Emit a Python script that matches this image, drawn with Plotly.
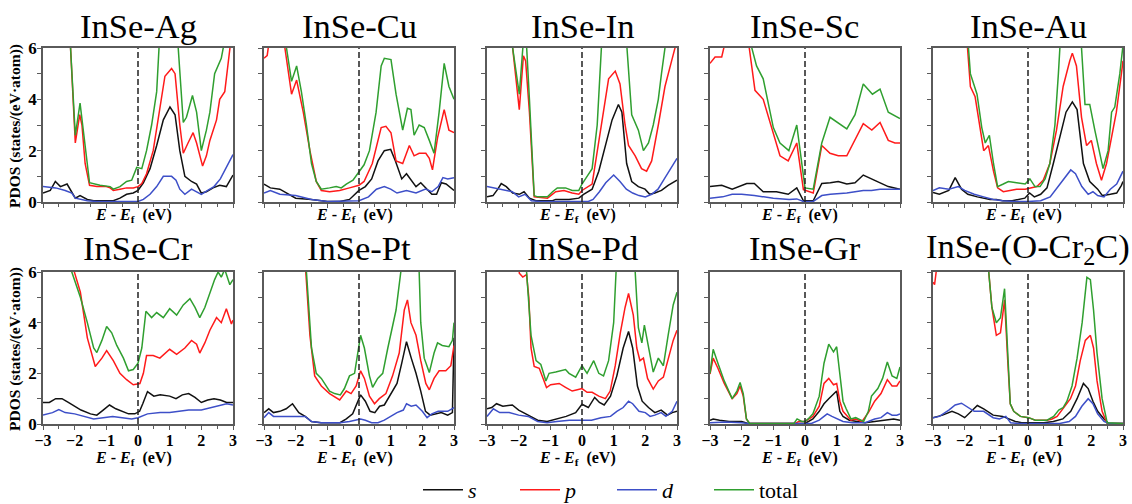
import plotly.graph_objects as go

# ---------------- data ----------------
PANELS = ["InSe-Ag", "InSe-Cu", "InSe-In", "InSe-Sc", "InSe-Au",
          "InSe-Cr", "InSe-Pt", "InSe-Pd", "InSe-Gr", "InSe-(O-Cr<sub>2</sub>C)"]
ORBITALS = ["s", "p", "d", "total"]
ORB_LABELS = ["<i>s</i>", "<i>p</i>", "<i>d</i>", "total"]
E_FERMI = 0.0
X_TICKS = [-3, -2, -1, 0, 1, 2, 3]
Y_TICKS = [0, 2, 4, 6]

AG_S = [(-3,0.35),(-2.77,0.45),(-2.61,0.8),(-2.45,0.6),(-2.24,0.7),(-2.09,0.4),(-1.98,0.15),(-1.83,0.25),(-1.6,0.1),(-1.4,0.05),(-0.78,0.05),(-0.57,0.15),(-0.36,0.3),(-0.15,0.35),(0,0.45),(0.17,0.75),(0.38,1.3),(0.59,2.2),(0.8,3.2),(1.01,3.7),(1.17,3.4),(1.32,2.0),(1.48,1.0),(1.69,0.8),(1.85,0.7),(2.0,0.35),(2.16,0.4),(2.37,0.55),(2.58,0.65),(2.79,0.6),(3.0,1.05)]
AG_P = [(-3,9),(-2.16,9),(-2.13,6),(-1.98,2.3),(-1.84,3.4),(-1.77,3.0),(-1.67,1.5),(-1.53,0.65),(-1.3,0.6),(-1.0,0.6),(-0.88,0.55),(-0.78,0.45),(-0.57,0.5),(-0.36,0.55),(-0.15,0.55),(0,0.6),(0.12,0.72),(0.27,1.1),(0.48,2.0),(0.69,3.6),(0.85,4.9),(1.06,5.2),(1.17,5.0),(1.32,3.0),(1.43,1.9),(1.58,2.3),(1.74,2.7),(1.85,2.3),(2.04,1.4),(2.16,1.8),(2.27,2.4),(2.48,3.2),(2.58,4.0),(2.74,4.3),(2.85,5.3),(2.92,6.0),(3.0,7.0)]
AG_D = [(-3,0.6),(-2.6,0.55),(-2.3,0.45),(-2.09,0.35),(-1.98,0.15),(-1.83,0.1),(-1.6,0.05),(-1.3,0.02),(0,0.02),(0.17,0.1),(0.38,0.3),(0.59,0.6),(0.8,1.0),(1.06,1.0),(1.2,0.85),(1.32,0.5),(1.48,0.3),(1.69,0.5),(1.9,0.35),(2.0,0.3),(2.2,0.45),(2.4,0.6),(2.6,0.9),(2.8,1.35),(3.0,1.85)]
AG_T = [(-3,9),(-2.16,9),(-2.13,6),(-1.98,2.6),(-1.83,3.85),(-1.7,2.5),(-1.53,0.75),(-1.2,0.65),(-0.88,0.6),(-0.78,0.5),(-0.57,0.6),(-0.36,0.8),(-0.2,0.85),(-0.04,1.35),(0.12,1.3),(0.27,2.0),(0.43,3.0),(0.59,4.3),(0.69,6.0),(0.75,8),(1.2,8),(1.27,6.0),(1.43,3.1),(1.53,3.3),(1.72,4.15),(1.85,3.5),(2.0,2.0),(2.16,2.8),(2.27,3.5),(2.42,5.0),(2.63,5.6),(2.74,6.2),(3.0,8)]

CU_S = [(-3,0.7),(-2.8,0.55),(-2.5,0.5),(-2.3,0.35),(-2.0,0.15),(-1.5,0.1),(-1.0,0.02),(-0.6,0.02),(-0.3,0.1),(0,0.45),(0.2,0.6),(0.4,0.9),(0.6,1.6),(0.8,2.0),(1.0,2.05),(1.15,1.6),(1.35,0.9),(1.5,1.1),(1.65,0.85),(1.8,0.6),(1.95,0.75),(2.1,0.55),(2.3,0.3),(2.45,0.3),(2.6,0.75),(2.75,0.7),(3.0,0.45)]
CU_P = [(-3,5.6),(-2.9,5.7),(-2.81,6.5),(-2.7,9),(-2.4,9),(-2.34,6),(-2.13,4.2),(-1.97,4.75),(-1.76,3.5),(-1.55,2.0),(-1.35,0.8),(-1.19,0.45),(-0.93,0.4),(-0.61,0.45),(-0.3,0.55),(0,0.65),(0.16,0.8),(0.42,1.5),(0.7,2.9),(0.85,2.95),(1.01,2.7),(1.17,1.6),(1.38,1.5),(1.59,2.2),(1.74,1.8),(1.9,1.9),(2.11,1.9),(2.22,1.7),(2.32,1.25),(2.48,2.5),(2.69,3.6),(2.84,2.8),(3.0,2.7)]
CU_D = [(-3,0.35),(-2.8,0.45),(-2.5,0.3),(-2.0,0.25),(-1.5,0.1),(-1.0,0.02),(0,0.05),(0.3,0.2),(0.55,0.5),(0.8,0.6),(1.0,0.5),(1.2,0.35),(1.5,0.45),(1.8,0.35),(2.1,0.5),(2.3,0.4),(2.5,0.6),(2.65,0.95),(2.8,0.9),(3.0,0.95)]
CU_T = [(-3,9),(-2.35,9),(-2.29,6.0),(-2.13,4.7),(-1.97,5.3),(-1.82,4.3),(-1.66,3.0),(-1.5,1.5),(-1.35,0.8),(-1.19,0.5),(-0.93,0.55),(-0.72,0.6),(-0.56,0.55),(-0.4,0.7),(-0.19,0.85),(0,1.2),(0.16,1.45),(0.33,2.0),(0.54,3.5),(0.7,5.3),(0.8,5.6),(1.01,5.55),(1.17,4.2),(1.38,2.8),(1.53,3.65),(1.64,3.6),(1.74,2.6),(1.9,3.0),(2.06,2.9),(2.22,2.4),(2.37,1.9),(2.53,3.5),(2.69,5.4),(2.84,4.5),(3.0,4.0)]

IN_S = [(-3,0.2),(-2.81,0.25),(-2.66,0.5),(-2.55,0.72),(-2.39,0.6),(-2.19,0.35),(-1.98,0.3),(-1.83,0.4),(-1.66,0.15),(-1.46,0.05),(-0.93,0.05),(-0.83,0.1),(-0.41,0.1),(-0.1,0.15),(0.05,0.3),(0.32,0.5),(0.53,1.2),(0.74,2.2),(0.95,3.2),(1.15,3.8),(1.26,3.5),(1.41,1.5),(1.57,0.8),(1.78,0.6),(1.99,0.5),(2.14,0.3),(2.3,0.35),(2.51,0.45),(2.72,0.65),(3.0,0.85)]
IN_P = [(-3,9),(-2.25,9),(-2.19,6),(-1.98,3.6),(-1.85,5.7),(-1.78,5.5),(-1.66,3.5),(-1.58,1.5),(-1.51,0.2),(-1.09,0.15),(-0.83,0.4),(-0.57,0.45),(-0.31,0.35),(-0.1,0.3),(0,0.45),(0.32,0.7),(0.48,2.0),(0.68,3.5),(0.84,4.8),(1.05,5.1),(1.2,4.6),(1.36,3.0),(1.47,2.2),(1.68,1.8),(1.88,1.3),(2.04,1.2),(2.2,1.6),(2.41,3.0),(2.62,4.5),(2.83,5.5),(3.0,6.3)]
IN_D = [(-3,0.6),(-2.8,0.55),(-2.5,0.5),(-2.2,0.4),(-2.0,0.2),(-1.8,0.3),(-1.6,0.05),(-1.3,0.02),(0.2,0.02),(0.35,0.1),(0.55,0.4),(0.75,0.75),(1.0,1.05),(1.2,0.8),(1.4,0.5),(1.6,0.35),(1.8,0.25),(2.0,0.2),(2.2,0.3),(2.4,0.5),(2.6,0.9),(2.8,1.3),(3.0,1.7)]
IN_T = [(-3,9),(-2.25,9),(-2.19,6),(-1.98,4.2),(-1.85,6.3),(-1.76,6.3),(-1.66,4.0),(-1.58,2.0),(-1.51,0.25),(-1.4,0.2),(-1.09,0.2),(-0.93,0.4),(-0.78,0.55),(-0.52,0.55),(-0.31,0.45),(-0.1,0.45),(0,0.7),(0.16,1.0),(0.32,1.3),(0.48,3.0),(0.63,6.0),(0.7,8),(1.35,8),(1.42,6),(1.57,3.4),(1.78,2.8),(1.94,2.0),(2.1,2.3),(2.25,3.0),(2.41,4.0),(2.51,5.0),(2.62,6.0),(2.7,8),(3.0,8)]

SC_S = [(-3,0.6),(-2.63,0.65),(-2.3,0.5),(-1.84,0.72),(-1.6,0.72),(-1.32,0.4),(-0.9,0.4),(-0.53,0.3),(-0.26,0.55),(-0.05,0.05),(0.26,0.05),(0.53,0.72),(0.8,0.75),(1.05,0.8),(1.32,0.7),(1.58,0.75),(1.84,1.05),(2.11,0.9),(2.37,0.75),(2.63,0.6),(3.0,0.5)]
SC_P = [(-3,5.4),(-2.84,5.65),(-2.63,5.65),(-2.47,6.5),(-2.4,9),(-1.9,9),(-1.76,6.0),(-1.58,4.35),(-1.32,4.0),(-1.05,2.9),(-0.79,1.8),(-0.53,1.6),(-0.26,2.3),(-0.05,0.48),(0.26,0.35),(0.53,2.2),(0.79,1.9),(1.05,1.8),(1.32,1.8),(1.84,3.05),(2.11,2.8),(2.37,3.1),(2.63,2.4),(2.84,2.3),(3.0,2.3)]
SC_D = [(-3,0.15),(-2.6,0.2),(-2.3,0.3),(-2.0,0.3),(-1.6,0.25),(-1.32,0.2),(-1.0,0.15),(-0.5,0.1),(-0.26,0.12),(-0.05,0.02),(0.26,0.02),(0.53,0.25),(0.8,0.3),(1.32,0.35),(1.58,0.4),(1.84,0.45),(2.1,0.45),(2.37,0.5),(2.63,0.5),(3.0,0.5)]
SC_T = [(-3,9),(-1.75,9),(-1.68,6.0),(-1.53,5.3),(-1.32,4.8),(-1.0,2.9),(-0.79,2.3),(-0.51,2.0),(-0.26,3.0),(0.0,0.55),(0.26,0.5),(0.53,2.3),(0.79,3.3),(1.32,2.85),(1.58,3.4),(1.84,4.6),(2.13,4.2),(2.37,4.4),(2.63,3.5),(3.0,3.25)]

AU_S = [(-3,0.37),(-2.8,0.3),(-2.5,0.45),(-2.3,0.95),(-2.1,0.5),(-1.9,0.3),(-1.6,0.2),(-1.4,0.15),(-1.2,0.1),(-1.0,0.1),(-0.8,0.05),(-0.5,0.05),(-0.3,0.1),(-0.1,0.15),(0.05,0.35),(0.2,0.2),(0.4,0.3),(0.6,0.55),(0.8,1.5),(1.0,2.5),(1.2,3.5),(1.4,3.9),(1.55,3.6),(1.75,1.5),(1.95,0.8),(2.2,0.5),(2.35,0.25),(2.6,0.3),(2.8,0.35),(2.95,0.65),(3.0,0.8)]
AU_P = [(-3,9),(-1.95,9),(-1.91,6.0),(-1.82,4.5),(-1.67,4.1),(-1.51,2.8),(-1.4,2.0),(-1.25,2.2),(-1.09,1.2),(-0.96,0.55),(-0.78,0.4),(-0.57,0.45),(-0.36,0.5),(-0.09,0.5),(0.06,0.55),(0.28,0.6),(0.48,0.85),(0.69,1.5),(0.9,2.8),(1.11,4.5),(1.32,5.5),(1.4,5.8),(1.53,5.3),(1.69,3.3),(1.85,2.2),(2.0,2.4),(2.16,1.5),(2.32,0.85),(2.48,1.5),(2.64,2.5),(2.79,3.5),(2.95,5.0),(3.0,5.5)]
AU_D = [(-3,0.45),(-2.8,0.55),(-2.5,0.5),(-2.2,0.6),(-2.0,0.45),(-1.7,0.3),(-1.4,0.2),(-1.1,0.1),(-0.8,0.05),(-0.4,0.02),(0.0,0.02),(0.4,0.05),(0.7,0.2),(1.0,0.7),(1.2,1.0),(1.35,1.25),(1.5,1.1),(1.7,0.6),(1.9,0.3),(2.05,0.4),(2.2,0.25),(2.4,0.2),(2.6,0.5),(2.8,0.7),(3.0,1.2)]
AU_T = [(-3,9),(-1.92,9),(-1.88,6.0),(-1.82,5.0),(-1.61,4.2),(-1.46,2.9),(-1.35,2.3),(-1.22,2.6),(-1.09,1.5),(-0.96,0.6),(-0.78,0.7),(-0.62,0.8),(-0.36,0.75),(-0.09,0.7),(0.06,0.9),(0.22,0.6),(0.38,0.6),(0.54,0.9),(0.69,1.5),(0.85,3.0),(0.96,5.0),(1.03,6.0),(1.1,8),(1.62,8),(1.69,6.0),(1.8,3.8),(1.95,3.8),(2.11,2.8),(2.27,1.8),(2.37,1.3),(2.53,2.0),(2.64,3.5),(2.74,3.7),(2.9,5.0),(2.99,6.0),(3.0,6.3)]

CR_S = [(-3,0.85),(-2.8,0.85),(-2.6,1.0),(-2.4,1.0),(-2.2,0.85),(-2.0,0.7),(-1.8,0.55),(-1.5,0.4),(-1.3,0.35),(-1.1,0.55),(-0.9,0.75),(-0.7,0.6),(-0.5,0.5),(-0.3,0.4),(-0.1,0.4),(0.05,0.5),(0.15,0.8),(0.3,1.28),(0.5,1.1),(0.7,1.15),(1.0,1.1),(1.2,1.0),(1.4,1.15),(1.6,1.2),(1.8,1.05),(2.0,0.85),(2.2,0.95),(2.4,1.0),(2.6,0.95),(2.8,0.85),(3.0,0.85)]
CR_P = [(-3,9),(-2.08,9),(-2.01,6.0),(-1.82,5.2),(-1.6,3.4),(-1.35,2.27),(-1.14,2.6),(-0.99,2.9),(-0.78,2.5),(-0.57,2.0),(-0.36,1.75),(-0.15,1.55),(0.06,1.6),(0.17,2.0),(0.27,2.7),(0.48,2.7),(0.69,2.6),(1.0,2.95),(1.22,2.75),(1.48,3.0),(1.69,3.3),(1.85,3.15),(1.95,2.8),(2.11,3.2),(2.27,3.7),(2.48,4.2),(2.63,4.0),(2.79,4.55),(2.95,3.95),(3.0,4.1)]
CR_D = [(-3,0.35),(-2.7,0.45),(-2.5,0.57),(-2.3,0.45),(-2.0,0.4),(-1.7,0.3),(-1.4,0.2),(-1.1,0.25),(-0.8,0.3),(-0.5,0.25),(-0.2,0.2),(0.0,0.25),(0.3,0.4),(0.7,0.45),(1.0,0.45),(1.3,0.5),(1.6,0.55),(2.0,0.55),(2.3,0.65),(2.6,0.75),(2.8,0.8),(3.0,0.75)]
CR_T = [(-3,9),(-2.15,9),(-2.09,6.0),(-1.82,5.0),(-1.6,4.0),(-1.4,3.0),(-1.3,2.82),(-1.14,3.3),(-0.99,3.85),(-0.83,3.6),(-0.67,3.1),(-0.46,2.6),(-0.3,2.1),(-0.15,2.15),(0.0,2.4),(0.12,3.0),(0.25,4.45),(0.43,4.2),(0.59,4.4),(0.8,4.2),(1.0,4.55),(1.22,4.3),(1.43,4.7),(1.64,4.95),(1.8,4.6),(1.95,4.2),(2.11,4.6),(2.27,5.2),(2.42,5.7),(2.53,6.0),(2.63,5.8),(2.74,6.1),(2.9,5.5),(3.0,5.7)]

PT_S = [(-3,0.45),(-2.85,0.6),(-2.7,0.45),(-2.5,0.5),(-2.3,0.6),(-2.1,0.8),(-1.9,0.45),(-1.7,0.3),(-1.5,0.1),(-1.2,0.05),(-0.6,0.05),(-0.4,0.2),(-0.2,0.4),(0.05,1.15),(0.2,0.9),(0.35,0.5),(0.5,0.45),(0.65,0.7),(0.8,0.75),(1.0,1.2),(1.2,1.6),(1.35,2.4),(1.5,3.25),(1.65,2.6),(1.8,2.0),(1.95,1.3),(2.1,0.5),(2.25,0.35),(2.4,0.4),(2.6,0.45),(2.8,0.35),(2.95,0.45),(3.0,3.4)]
PT_P = [(-3,9),(-1.72,9),(-1.68,6.0),(-1.55,3.5),(-1.4,1.9),(-1.19,1.5),(-0.93,1.2),(-0.61,0.95),(-0.4,1.3),(-0.25,1.2),(-0.09,1.5),(0.05,2.1),(0.17,1.8),(0.33,1.1),(0.49,0.8),(0.64,1.0),(0.85,1.2),(1.06,1.9),(1.27,2.8),(1.43,4.5),(1.53,4.9),(1.64,4.0),(1.8,3.5),(1.95,2.5),(2.11,1.6),(2.22,1.35),(2.37,1.8),(2.53,2.1),(2.74,2.1),(2.9,2.3),(3.0,3.1)]
PT_D = [(-3,0.25),(-2.85,0.45),(-2.7,0.3),(-2.5,0.3),(-2.0,0.3),(-1.7,0.3),(-1.5,0.1),(-1.2,0.05),(-0.6,0.05),(-0.3,0.1),(0.05,0.2),(0.2,0.15),(0.4,0.05),(0.6,0.05),(0.8,0.15),(1.0,0.3),(1.2,0.45),(1.4,0.55),(1.5,0.8),(1.65,0.7),(1.8,0.75),(2.0,0.5),(2.15,0.25),(2.3,0.4),(2.5,0.5),(2.8,0.5),(3.0,0.65)]
PT_T = [(-3,9),(-1.7,9),(-1.66,6.0),(-1.61,5.0),(-1.5,3.0),(-1.35,2.0),(-1.19,1.8),(-0.93,1.3),(-0.77,1.2),(-0.59,1.15),(-0.46,1.4),(-0.3,1.9),(-0.14,2.0),(0.05,3.5),(0.17,3.0),(0.33,1.9),(0.43,1.45),(0.59,1.8),(0.75,2.0),(0.91,3.0),(1.06,3.8),(1.17,4.5),(1.32,6.0),(1.4,8),(1.85,8),(1.9,6.0),(1.95,4.0),(2.06,2.6),(2.22,2.03),(2.37,2.8),(2.48,3.2),(2.63,3.1),(2.84,3.05),(2.95,3.3),(3.0,4.0)]

PD_S = [(-3,0.6),(-2.85,0.65),(-2.7,0.8),(-2.5,0.7),(-2.2,0.75),(-2.0,0.55),(-1.7,0.35),(-1.4,0.15),(-1.1,0.1),(-0.8,0.2),(-0.5,0.3),(-0.2,0.45),(0.0,0.78),(0.2,0.65),(0.4,1.05),(0.55,0.85),(0.7,0.75),(0.9,1.1),(1.1,1.9),(1.3,3.0),(1.47,3.65),(1.6,3.0),(1.75,1.5),(1.9,0.9),(2.1,0.65),(2.3,0.45),(2.5,0.55),(2.7,0.35),(2.85,0.45),(3.0,0.5)]
PD_P = [(-3,9),(-2.05,9),(-1.98,5.95),(-1.87,5.8),(-1.75,5.9),(-1.68,5.0),(-1.61,3.0),(-1.51,2.27),(-1.35,2.2),(-1.25,1.9),(-1.12,1.44),(-0.99,1.55),(-0.72,1.6),(-0.52,1.45),(-0.31,1.3),(-0.15,1.35),(0.0,1.4),(0.16,1.25),(0.32,1.25),(0.53,1.1),(0.74,1.0),(0.89,1.3),(1.05,2.3),(1.21,3.6),(1.36,4.6),(1.47,5.15),(1.62,4.3),(1.73,3.0),(1.83,2.5),(1.94,2.6),(2.07,1.8),(2.25,1.38),(2.41,1.7),(2.57,1.85),(2.72,2.5),(2.88,3.3),(3.0,3.7)]
PD_D = [(-3,0.3),(-2.8,0.6),(-2.6,0.45),(-2.3,0.45),(-2.0,0.35),(-1.7,0.3),(-1.4,0.1),(-1.1,0.05),(-0.8,0.1),(-0.4,0.15),(0.0,0.15),(0.3,0.15),(0.6,0.25),(0.9,0.3),(1.1,0.5),(1.3,0.65),(1.47,0.9),(1.6,0.8),(1.8,0.5),(2.0,0.45),(2.15,0.3),(2.3,0.35),(2.5,0.45),(2.65,0.3),(2.85,0.5),(3.0,0.9)]
PD_T = [(-3,9),(-1.8,9),(-1.75,6.0),(-1.61,3.5),(-1.45,2.5),(-1.3,2.35),(-1.14,1.7),(-1.04,2.0),(-0.83,2.05),(-0.52,2.15),(-0.41,2.0),(-0.2,1.85),(0.0,2.3),(0.16,2.0),(0.37,2.5),(0.53,2.0),(0.68,1.9),(0.84,2.5),(1.0,4.0),(1.1,6.0),(1.15,8),(1.62,8),(1.68,6.0),(1.78,3.8),(1.89,3.2),(1.97,3.9),(2.1,3.0),(2.25,2.05),(2.41,2.6),(2.57,2.3),(2.72,3.5),(2.88,4.7),(3.0,5.2)]

GR_S = [(-3,0.15),(-2.9,0.2),(-2.7,0.15),(-2.4,0.1),(-2.0,0.1),(-1.8,0.02),(0.0,0.02),(0.25,0.2),(0.45,0.5),(0.6,0.8),(0.75,1.0),(0.9,1.2),(1.0,1.3),(1.1,0.5),(1.2,0.3),(1.4,0.15),(1.7,0.1),(1.9,0.05),(2.2,0.1),(2.5,0.15),(2.8,0.2),(3.0,0.15)]
GR_P = [(-3,1.97),(-2.9,2.6),(-2.75,2.2),(-2.55,1.6),(-2.3,1.0),(-2.15,1.2),(-2.05,1.5),(-1.95,1.1),(-1.85,0.2),(-1.75,0.02),(-0.3,0.02),(-0.2,0.1),(0.0,0.1),(0.25,0.3),(0.45,0.7),(0.6,1.6),(0.75,1.8),(0.9,1.55),(1.0,1.6),(1.1,0.9),(1.2,0.5),(1.3,0.35),(1.45,0.15),(1.6,0.2),(1.8,0.1),(2.0,0.45),(2.2,0.9),(2.4,1.2),(2.6,1.75),(2.75,1.5),(2.9,1.5),(3.0,1.7)]
GR_D = [(-3,0.05),(-2.5,0.08),(-2.0,0.05),(-1.8,0.02),(0.2,0.02),(0.45,0.15),(0.6,0.3),(0.7,0.4),(0.85,0.3),(1.0,0.2),(1.2,0.1),(1.5,0.05),(1.9,0.05),(2.2,0.2),(2.4,0.25),(2.6,0.45),(2.75,0.35),(2.9,0.35),(3.0,0.4)]
GR_T = [(-3,2.0),(-2.9,2.95),(-2.75,2.4),(-2.55,1.7),(-2.3,1.0),(-2.15,1.3),(-2.05,1.64),(-1.95,1.2),(-1.85,0.2),(-1.75,0.02),(-0.35,0.02),(-0.25,0.2),(-0.1,0.1),(0.0,0.1),(0.1,0.2),(0.25,0.4),(0.45,1.1),(0.6,2.4),(0.75,3.15),(0.9,2.85),(1.0,3.05),(1.1,2.0),(1.2,0.9),(1.3,0.6),(1.45,0.2),(1.6,0.25),(1.75,0.15),(1.85,0.1),(2.0,0.5),(2.1,1.1),(2.3,1.4),(2.45,1.8),(2.6,2.45),(2.75,1.9),(2.9,1.8),(3.0,2.25)]

OC_S = [(-3,0.25),(-2.7,0.35),(-2.4,0.5),(-2.2,0.4),(-2.0,0.25),(-1.8,0.5),(-1.6,0.73),(-1.4,0.6),(-1.1,0.35),(-0.8,0.3),(-0.6,0.2),(-0.4,0.1),(-0.2,0.05),(0.5,0.05),(0.8,0.1),(1.1,0.2),(1.35,0.5),(1.55,1.0),(1.75,1.6),(1.9,1.4),(2.05,0.9),(2.2,0.5),(2.4,0.2),(2.55,0.02),(3.0,0.02)]
OC_P = [(-3,5.6),(-2.95,5.5),(-2.85,6.5),(-2.8,9),(-1.3,9),(-1.24,6.0),(-1.14,4.6),(-1.0,3.5),(-0.87,3.6),(-0.74,4.9),(-0.64,2.5),(-0.56,0.8),(-0.45,0.5),(-0.24,0.3),(0.02,0.25),(0.23,0.15),(0.6,0.15),(0.76,0.2),(0.92,0.3),(1.07,0.55),(1.18,0.7),(1.34,1.0),(1.5,1.5),(1.65,2.5),(1.81,3.3),(1.97,3.5),(2.07,3.0),(2.18,1.7),(2.34,0.5),(2.5,0.02),(3.0,0.02)]
OC_D = [(-3,0.25),(-2.8,0.3),(-2.5,0.55),(-2.3,0.75),(-2.1,0.82),(-1.9,0.65),(-1.7,0.5),(-1.4,0.5),(-1.1,0.25),(-0.9,0.2),(-0.7,0.3),(-0.55,0.05),(-0.3,0.02),(1.0,0.02),(1.3,0.1),(1.5,0.3),(1.7,0.7),(1.9,1.0),(2.05,0.8),(2.2,0.4),(2.4,0.1),(2.55,0.02),(3.0,0.02)]
OC_T = [(-3,9),(-1.3,9),(-1.24,6.0),(-1.14,4.6),(-1.0,4.0),(-0.87,4.2),(-0.74,5.34),(-0.64,2.5),(-0.56,0.8),(-0.45,0.5),(-0.24,0.3),(0.02,0.25),(0.23,0.15),(0.6,0.15),(0.81,0.3),(0.97,0.55),(1.11,0.65),(1.23,0.9),(1.39,1.5),(1.55,2.6),(1.71,4.0),(1.86,5.79),(1.97,5.7),(2.07,4.5),(2.18,2.8),(2.34,1.0),(2.5,0.05),(3.0,0.02)]

PANEL_DATA = [
    (AG_S, AG_P, AG_D, AG_T), (CU_S, CU_P, CU_D, CU_T), (IN_S, IN_P, IN_D, IN_T),
    (SC_S, SC_P, SC_D, SC_T), (AU_S, AU_P, AU_D, AU_T), (CR_S, CR_P, CR_D, CR_T),
    (PT_S, PT_P, PT_D, PT_T), (PD_S, PD_P, PD_D, PD_T), (GR_S, GR_P, GR_D, GR_T),
    (OC_S, OC_P, OC_D, OC_T),
]

# ---------------- styling / layout ----------------
W, H = 1132, 504
COLORS = ["#111111", "#ff1a1a", "#3d4fc8", "#2f9f2f"]
FONT = "Times New Roman, Liberation Serif, serif"
COL_LEFT = [43, 264, 487, 710, 933]
PANEL_W = 190
ROW_TOP = [48, 272]
ROW_BOT = [202, 424]
AXIS_COLOR = "#5a5a5a"


def px_x(v):
    return v / W


def px_y(v):
    return 1 - v / H


fig = go.Figure()
annotations = []
shapes = []
layout_axes = {}

for i, (title, series) in enumerate(zip(PANELS, PANEL_DATA)):
    r, c = divmod(i, 5)
    k = i + 1
    xa = "x" if k == 1 else f"x{k}"
    ya = "y" if k == 1 else f"y{k}"
    for j, pts in enumerate(series):
        fig.add_trace(go.Scatter(
            x=[p[0] for p in pts], y=[p[1] for p in pts],
            mode="lines", xaxis=xa, yaxis=ya,
            line=dict(color=COLORS[j], width=1.5),
            name=ORB_LABELS[j], legendgroup=ORBITALS[j],
            showlegend=(i == 0), hoverinfo="skip",
        ))
    x0, x1 = px_x(COL_LEFT[c]), px_x(COL_LEFT[c] + PANEL_W)
    y0, y1 = px_y(ROW_BOT[r]), px_y(ROW_TOP[r])
    layout_axes["xaxis" if k == 1 else f"xaxis{k}"] = dict(
        domain=[x0, x1], anchor=ya, range=[-3, 3], tickvals=X_TICKS,
        showticklabels=(r == 1), ticks="outside", ticklen=4, tickwidth=1.2,
        tickcolor=AXIS_COLOR, ticklabelstandoff=-3,
        tickfont=dict(family=FONT, size=16, color="black", weight="bold"),
        minor=dict(dtick=0.5, tick0=0, ticks="outside", ticklen=3, tickwidth=1.2, tickcolor=AXIS_COLOR),
        showline=True, linecolor=AXIS_COLOR, linewidth=1.5, mirror=True,
        showgrid=False, zeroline=False, fixedrange=True, automargin=False,
    )
    layout_axes["yaxis" if k == 1 else f"yaxis{k}"] = dict(
        domain=[y0, y1], anchor=xa, range=[0, 6], tickvals=Y_TICKS,
        showticklabels=(c == 0), ticks="outside", ticklen=4, tickwidth=1.2,
        tickcolor=AXIS_COLOR, ticklabelstandoff=-3,
        tickfont=dict(family=FONT, size=17, color="black", weight="bold"),
        minor=dict(dtick=1, tick0=0, ticks="outside", ticklen=4, tickwidth=1.2, tickcolor=AXIS_COLOR),
        showline=True, linecolor=AXIS_COLOR, linewidth=1.5, mirror=True,
        showgrid=False, zeroline=False, fixedrange=True, automargin=False,
    )
    shapes.append(dict(type="line", xref=xa, yref=f"{ya} domain",
                       x0=E_FERMI, x1=E_FERMI, y0=0, y1=1,
                       line=dict(color="#222222", width=1.5, dash="6px,3px")))
    cx = px_x(COL_LEFT[c] + PANEL_W / 2)
    annotations.append(dict(text=title, xref="paper", yref="paper",
                            x=cx, y=px_y([26, 248][r]), xanchor="center", yanchor="middle",
                            showarrow=False, font=dict(family=FONT, size=34.5, color="black")))
    annotations.append(dict(text="<i>E</i> - <i>E</i><sub>f</sub>  (eV)", xref="paper", yref="paper",
                            x=cx - px_x(5), y=px_y([215, 458][r]), xanchor="center", yanchor="middle",
                            showarrow=False, font=dict(family=FONT, size=16, color="black", weight="bold")))
    if c == 0:
        annotations.append(dict(text="PDOS (states/(eV·atom))", xref="paper", yref="paper",
                                x=px_x(15), y=px_y((ROW_TOP[r] + ROW_BOT[r]) / 2 + 1),
                                xanchor="center", yanchor="middle", textangle=-90,
                                showarrow=False, font=dict(family=FONT, size=15.5, color="black", weight="bold")))

fig.update_layout(
    width=W, height=H, autosize=False,
    margin=dict(l=0, r=0, t=0, b=0, autoexpand=False),
    paper_bgcolor="white", plot_bgcolor="white",
    annotations=annotations, shapes=shapes,
    legend=dict(orientation="h", x=px_x(418), xanchor="left", y=px_y(490), yanchor="middle",
                font=dict(family=FONT, size=22, color="black"), bgcolor="rgba(0,0,0,0)",
                itemwidth=40, entrywidth=42, entrywidthmode="pixels", tracegroupgap=0),
    **layout_axes,
)

fig.write_html("out.html", config={"displayModeBar": False},
               post_script="document.body.style.margin='0px';document.body.style.overflow='hidden';")
